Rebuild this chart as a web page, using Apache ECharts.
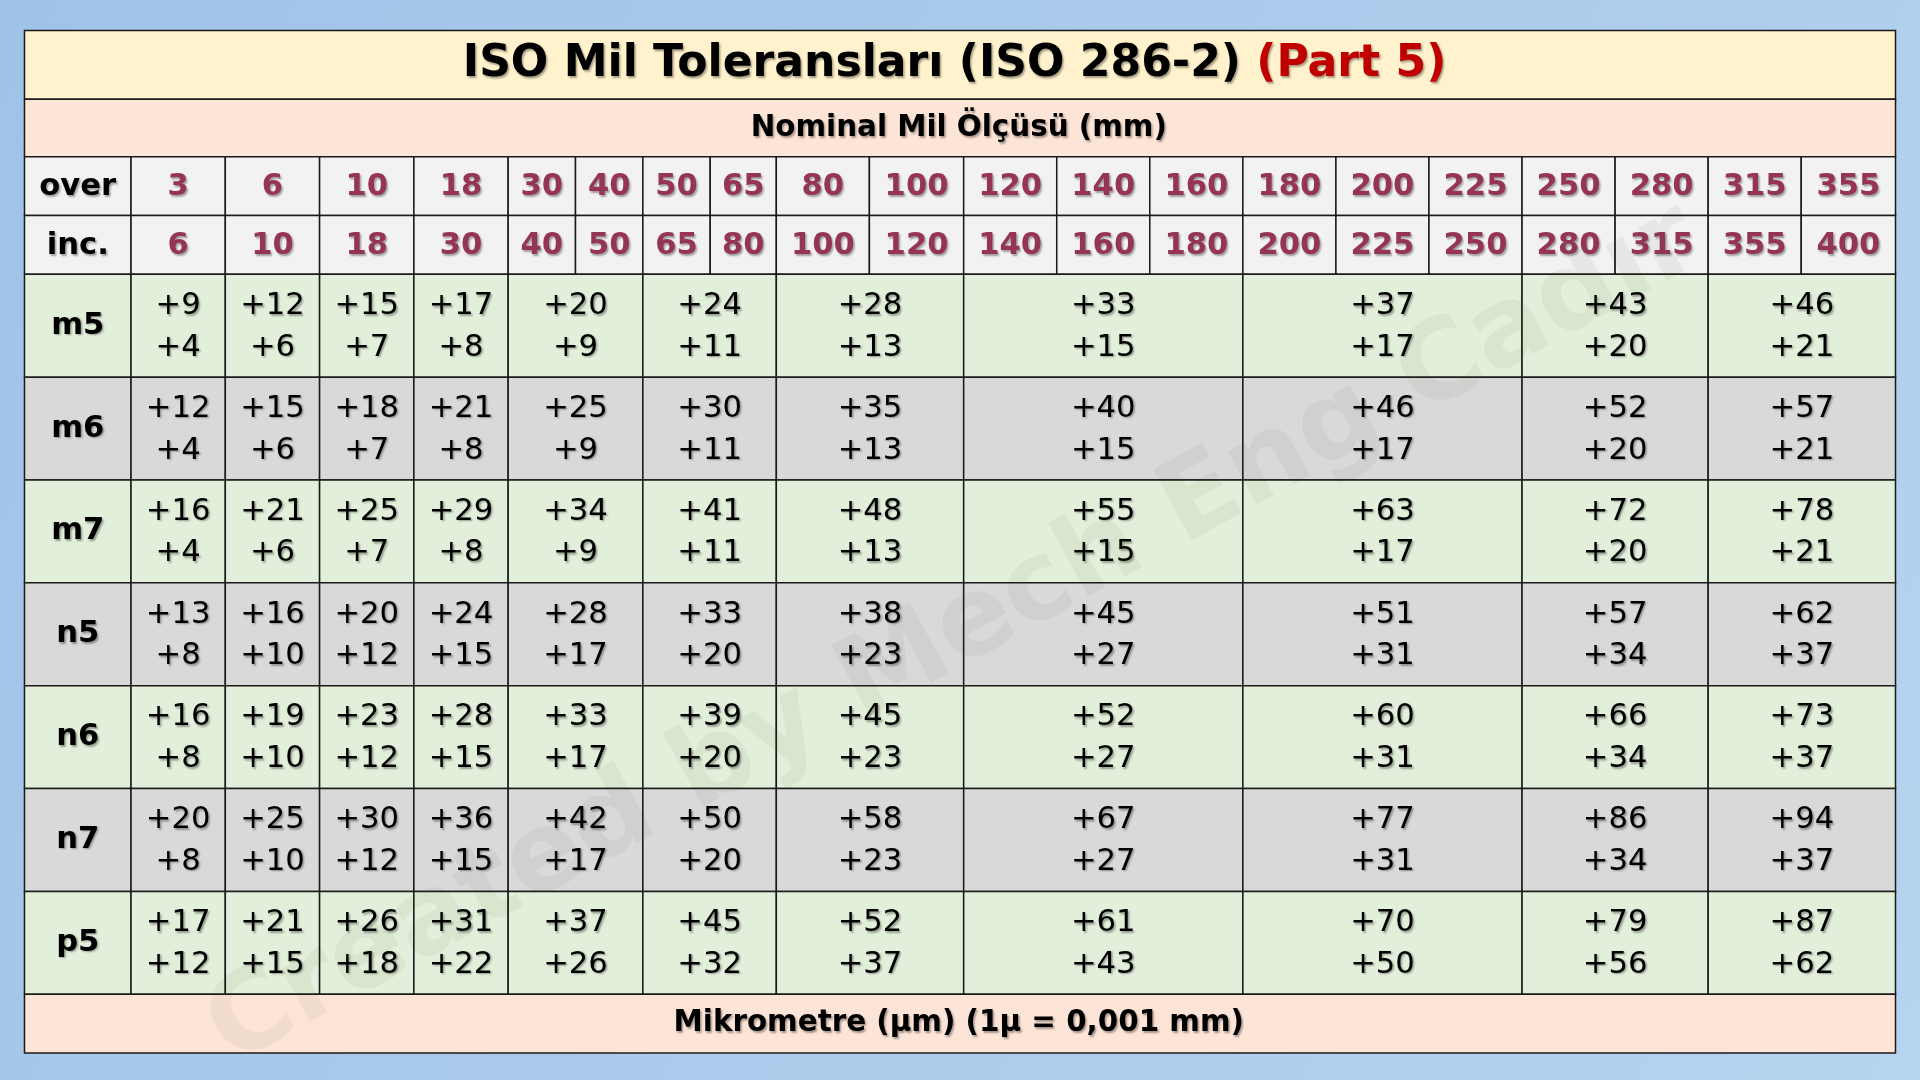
<!DOCTYPE html>
<html>
<head>
<meta charset="utf-8">
<script src="https://cdn.jsdelivr.net/npm/echarts@6/dist/echarts.min.js"></script>
<style>
  html, body { margin: 0; padding: 0; }
  #main { width: 1920px; height: 1080px; }
</style>
</head>
<body>
<div id="main"></div>
<script>
// data
var overVals = [3, 6, 10, 18, 30, 40, 50, 65, 80, 100, 120, 140, 160, 180, 200, 225, 250, 280, 315, 355];
var incVals = [6, 10, 18, 30, 40, 50, 65, 80, 100, 120, 140, 160, 180, 200, 225, 250, 280, 315, 355, 400];
// how many header columns each tolerance cell spans
var groupSpans = [1, 1, 1, 1, 2, 2, 2, 3, 3, 2, 2];
var grades = ["m5", "m6", "m7", "n5", "n6", "n7", "p5"];
var upperDev = [
    [9, 12, 15, 17, 20, 24, 28, 33, 37, 43, 46],
    [12, 15, 18, 21, 25, 30, 35, 40, 46, 52, 57],
    [16, 21, 25, 29, 34, 41, 48, 55, 63, 72, 78],
    [13, 16, 20, 24, 28, 33, 38, 45, 51, 57, 62],
    [16, 19, 23, 28, 33, 39, 45, 52, 60, 66, 73],
    [20, 25, 30, 36, 42, 50, 58, 67, 77, 86, 94],
    [17, 21, 26, 31, 37, 45, 52, 61, 70, 79, 87]
];
var lowerDev = [
    [4, 6, 7, 8, 9, 11, 13, 15, 17, 20, 21],
    [4, 6, 7, 8, 9, 11, 13, 15, 17, 20, 21],
    [4, 6, 7, 8, 9, 11, 13, 15, 17, 20, 21],
    [8, 10, 12, 15, 17, 20, 23, 27, 31, 34, 37],
    [8, 10, 12, 15, 17, 20, 23, 27, 31, 34, 37],
    [8, 10, 12, 15, 17, 20, 23, 27, 31, 34, 37],
    [12, 15, 18, 22, 26, 32, 37, 43, 50, 56, 62]
];

var s = 1920 / 1568;
var colEdges = [20, 107, 184, 261, 338, 415, 470, 525, 580, 634, 710, 787, 863, 939, 1015, 1091, 1167, 1243, 1319, 1395, 1471, 1548];
var L = 20, R = 1548;
var font = '"DejaVu Sans", Verdana, sans-serif';
var shadow = { textShadowColor: "rgba(0,0,0,0.35)", textShadowBlur: 2, textShadowOffsetX: 1.5, textShadowOffsetY: 1.5 };

var els = [];
function rect(x, y, w, h, fill) {
    els.push({ type: "rect", shape: { x: x * s, y: y * s, width: w * s, height: h * s },
        style: { fill: fill, stroke: "#1a1a1a", lineWidth: 1.5 } });
}
function text(x, y, str, size, color, weight, extra) {
    var st = Object.assign({ text: str, x: x * s, y: y * s, fill: color, font: weight + " " + (size * s) + "px " + font,
        align: "center", verticalAlign: "middle" }, shadow, extra || {});
    els.push({ type: "text", style: st, z: 10 });
}

// title rows
rect(L, 25, R - L, 56, "#fff2cc");
text(1026, 53, "ISO Mil Toleransları (ISO 286-2) ", 36, "#000", "bold", { align: "right" });
text(1026, 53, "(Part 5)", 36, "#c00000", "bold", { align: "left" });
rect(L, 81, R - L, 47, "#fce4d6");
text(783, 105, "Nominal Mil Ölçüsü (mm)", 24, "#000", "bold");

// over / inc rows
[["over", overVals, 128], ["inc.", incVals, 176]].forEach(function (r) {
    rect(colEdges[0], r[2], colEdges[1] - colEdges[0], 48, "#f2f2f2");
    text((colEdges[0] + colEdges[1]) / 2, r[2] + 25, r[0], 25, "#000", "bold");
    r[1].forEach(function (v, i) {
        var x0 = colEdges[i + 1], x1 = colEdges[i + 2];
        rect(x0, r[2], x1 - x0, 48, "#f2f2f2");
        text((x0 + x1) / 2, r[2] + 25, String(v), 25, "#953456", "bold");
    });
});

// tolerance rows
grades.forEach(function (g, ri) {
    var y = 224 + ri * 84;
    var fill = ri % 2 === 0 ? "#e2efda" : "#d9d9d9";
    rect(colEdges[0], y, colEdges[1] - colEdges[0], 84, fill);
    text((colEdges[0] + colEdges[1]) / 2, y + 42, g, 25, "#000", "bold");
    var c = 1;
    groupSpans.forEach(function (span, gi) {
        var x0 = colEdges[c], x1 = colEdges[c + span];
        c += span;
        rect(x0, y, x1 - x0, 84, fill);
        text((x0 + x1) / 2, y + 26, "+" + upperDev[ri][gi], 25, "#000", "normal");
        text((x0 + x1) / 2, y + 60, "+" + lowerDev[ri][gi], 25, "#000", "normal");
    });
});

// footer
rect(L, 812, R - L, 48, "#fce4d6");
text(783, 836, "Mikrometre (µm) (1µ = 0,001 mm)", 24, "#000", "bold");

// faint watermark
els.push({ type: "text", x: 780 * s, y: 520 * s, rotation: 0.5, z: 20,
    style: { text: "Created by Mech Eng Cadır", fill: "rgba(60,90,40,0.06)", font: "bold " + (90 * s) + "px " + font,
        align: "center", verticalAlign: "middle" } });

var chart = echarts.init(document.getElementById("main"));
chart.setOption({
    backgroundColor: {
        type: "linear", x: 0, y: 0, x2: 1, y2: 1,
        colorStops: [{ offset: 0, color: "#9fc3e8" }, { offset: 1, color: "#b6d3ef" }]
    },
    graphic: els
});
</script>
</body>
</html>
